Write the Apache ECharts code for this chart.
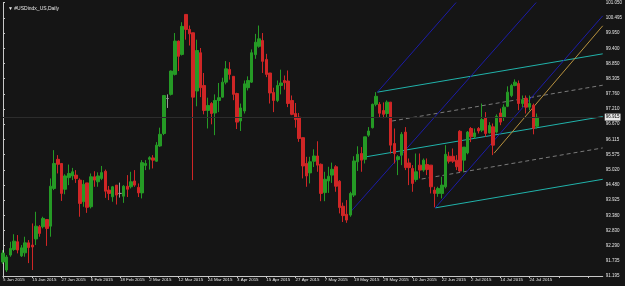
<!DOCTYPE html>
<html>
<head>
<meta charset="utf-8">
<title>#USDindx_US,Daily</title>
<script src="https://cdn.jsdelivr.net/npm/echarts@6/dist/echarts.min.js"></script>
<style>
  html, body { margin: 0; padding: 0; background: #151515; }
  #chart { width: 625px; height: 286px; }
</style>
</head>
<body>
<div id="chart"></div>
<script>
// daily bars, 5 Jan 2015 .. 28 Jul 2015 (weekdays)
var firstDay = '2015-01-05';
var slotCount = 165; // chart is shifted, empty slots on the right

var opens = [91.70, 91.41, 91.95, 92.15, 92.43, 91.92, 92.03, 92.39, 92.31, 92.53,
  92.97, 92.97, 93.23, 92.99, 94.35, 95.40, 95.25, 94.32, 94.74, 94.80,
  94.83, 94.65, 93.87, 94.55, 93.69, 94.77, 94.59, 94.71, 94.97, 94.29,
  94.05, 94.47, 94.17, 94.07, 94.43, 94.41, 94.62, 94.39, 94.19, 95.18,
  95.40, 95.45, 95.33, 95.88, 96.33, 97.59, 97.74, 98.46, 99.66, 99.18,
  100.62, 100.08, 99.96, 97.86, 99.24, 98.06, 97.16, 97.41, 97.07, 97.52,
  97.64, 98.18, 98.64, 98.39, 97.77, 96.78, 97.14, 97.98, 98.18, 99.17,
  99.47, 99.68, 99.00, 98.51, 97.81, 97.52, 98.06, 98.24, 98.22, 97.52,
  97.05, 96.92, 96.18, 95.25, 94.91, 95.33, 95.52, 95.22, 94.20, 94.62,
  94.83, 95.13, 94.61, 93.71, 93.42, 93.39, 94.11, 95.31, 95.61, 95.40,
  96.27, 96.54, 97.38, 97.38, 97.16, 97.05, 97.46, 95.97, 95.39, 95.55,
  96.38, 95.27, 95.07, 94.67, 95.19, 95.01, 95.21, 95.19, 94.29, 94.17,
  94.17, 94.41, 95.51, 95.51, 95.37, 96.41, 95.37, 95.63, 96.51, 96.21,
  96.51, 96.45, 96.89, 96.35, 96.57, 96.38, 97.07, 96.92, 97.31, 97.70,
  98.06, 98.13, 97.41, 97.59, 97.28, 97.35, 96.59];

var closes = [92.02, 91.88, 92.19, 92.45, 92.13, 92.21, 92.39, 92.22, 92.24, 92.99,
  92.73, 93.27, 92.91, 94.43, 95.25, 95.22, 94.17, 94.80, 94.89, 94.95,
  94.71, 93.81, 94.50, 93.67, 94.77, 94.65, 94.80, 94.92, 94.25, 94.17,
  94.41, 94.11, 94.17, 94.43, 94.32, 94.59, 94.47, 94.19, 95.28, 95.25,
  95.46, 95.37, 95.91, 96.30, 97.70, 97.59, 98.58, 99.66, 99.11, 100.19,
  100.08, 99.92, 97.64, 99.32, 97.98, 97.16, 97.34, 97.05, 97.52, 97.62,
  98.18, 98.66, 98.46, 97.74, 96.74, 97.25, 98.12, 98.24, 99.24, 99.62,
  99.74, 98.93, 98.46, 97.79, 97.52, 98.06, 98.15, 98.16, 97.41, 97.02,
  96.83, 96.15, 95.16, 94.80, 95.31, 95.52, 95.19, 94.17, 94.68, 94.79,
  95.04, 94.43, 93.66, 93.37, 93.21, 94.17, 95.34, 95.58, 95.37, 96.21,
  96.42, 97.38, 97.67, 97.06, 97.02, 97.46, 95.91, 95.61, 95.49, 96.30,
  95.10, 95.10, 94.53, 94.95, 95.01, 95.37, 95.03, 94.41, 94.17, 94.35,
  94.47, 95.58, 95.33, 95.33, 95.13, 94.98, 95.84, 96.38, 96.21, 96.35,
  96.42, 96.83, 96.33, 96.62, 95.91, 96.95, 96.74, 97.28, 97.82, 98.06,
  98.18, 97.41, 97.55, 97.28, 97.41, 96.51, 96.915];

var lows = [91.63, 91.34, 91.89, 92.10, 92.01, 91.88, 91.89, 91.66, 91.41, 92.31,
  92.61, 92.91, 92.28, 92.61, 94.29, 94.89, 93.90, 94.14, 94.47, 94.65,
  94.55, 93.33, 93.69, 93.47, 93.63, 94.41, 94.41, 94.65, 94.01, 93.93,
  93.87, 93.77, 94.02, 93.83, 94.04, 94.35, 94.41, 94.04, 93.99, 95.01,
  95.03, 95.07, 95.31, 95.85, 96.27, 97.25, 97.70, 98.42, 98.58, 99.14,
  99.71, 99.50, 94.65, 97.31, 97.64, 97.02, 96.51, 96.66, 96.27, 97.10,
  97.62, 98.10, 98.27, 97.53, 96.49, 96.42, 97.05, 97.88, 98.15, 99.02,
  99.42, 98.51, 98.36, 97.41, 97.10, 97.46, 97.74, 97.91, 97.28, 96.99,
  96.54, 96.03, 94.71, 94.41, 94.53, 95.12, 94.95, 93.89, 93.89, 94.19,
  94.55, 94.23, 93.45, 93.14, 93.11, 93.33, 94.04, 94.98, 94.95, 95.25,
  96.21, 96.51, 97.31, 96.92, 96.88, 96.92, 95.61, 95.25, 94.83, 95.19,
  95.01, 94.47, 94.23, 94.59, 94.71, 94.95, 94.83, 94.17, 93.67, 94.05,
  93.99, 94.35, 95.25, 95.27, 95.01, 94.95, 94.95, 95.58, 96.02, 96.15,
  96.33, 96.38, 96.21, 96.33, 95.55, 96.33, 96.63, 96.78, 97.28, 97.64,
  98.03, 97.17, 97.28, 97.05, 97.16, 96.30, 96.51];

var highs = [92.13, 91.95, 92.43, 92.70, 92.67, 92.31, 92.61, 92.49, 93.09, 93.51,
  93.03, 93.33, 93.23, 94.71, 95.73, 95.55, 95.25, 94.86, 95.21, 95.09,
  95.01, 94.71, 94.65, 94.55, 94.89, 94.97, 94.93, 95.16, 95.03, 94.44,
  94.44, 94.47, 94.56, 94.47, 94.83, 94.95, 95.01, 94.53, 95.37, 95.37,
  95.51, 95.55, 96.02, 96.54, 97.70, 97.74, 98.60, 99.95, 99.68, 100.34,
  100.62, 100.22, 99.96, 99.71, 99.41, 98.51, 97.62, 97.46, 97.74, 98.15,
  98.34, 98.94, 98.90, 98.39, 97.80, 97.41, 98.24, 98.39, 99.36, 99.92,
  100.22, 99.95, 99.20, 98.51, 97.98, 98.24, 98.63, 98.42, 98.60, 97.70,
  97.43, 97.07, 96.18, 95.49, 95.49, 95.76, 96.05, 95.25, 94.95, 95.13,
  95.28, 95.19, 94.65, 93.84, 93.93, 94.23, 95.51, 95.87, 95.84, 96.21,
  96.56, 97.41, 97.82, 97.46, 97.45, 97.52, 97.46, 96.51, 95.55, 96.38,
  96.56, 95.43, 95.19, 95.61, 95.61, 95.43, 95.43, 95.19, 94.41, 94.41,
  94.77, 95.91, 95.67, 95.79, 95.55, 96.45, 95.84, 96.42, 96.56, 96.51,
  96.56, 97.41, 97.10, 96.74, 96.69, 97.02, 97.23, 97.38, 98.03, 98.12,
  98.28, 98.24, 97.70, 97.70, 97.70, 97.41, 97.05];

var priceTicks = [91.195, 91.735, 92.290, 92.830, 93.380, 93.925, 94.480, 95.020, 95.575,
  96.115, 96.670, 97.210, 97.760, 98.305, 98.850, 99.400, 99.950, 100.495, 101.050];
var bidPrice = 96.915;

// drawn objects: [barIndex, price] end points
var cyanLines = [
  [[102.4, 97.82], [164, 99.20]],
  [[98.8, 95.48], [164, 96.94]],
  [[118.2, 93.65], [164, 94.68]]
];
var grayLines = [
  [[106.4, 96.78], [164, 98.07]],
  [[114.5, 94.69], [164, 95.81]]
];
var blueLines = [
  [[102.4, 97.82], [123.9, 101.05]],
  [[95.2, 93.53], [145.8, 101.05]],
  [[118.2, 93.65], [164, 100.57]]
];
var orangeLine = [[134.3, 95.62], [164, 100.21]];

var months = ['Jan', 'Feb', 'Mar', 'Apr', 'May', 'Jun', 'Jul', 'Aug', 'Sep', 'Oct', 'Nov', 'Dec'];

function weekdays(start, n) {
  var out = [];
  var d = new Date(start + 'T00:00:00Z');
  while (out.length < n) {
    var wd = d.getUTCDay();
    if (wd !== 0 && wd !== 6) {
      out.push(d.getUTCDate() + ' ' + months[d.getUTCMonth()] + ' ' + d.getUTCFullYear());
    }
    d.setUTCDate(d.getUTCDate() + 1);
  }
  return out;
}

var dates = weekdays(firstDay, slotCount);
var barCount = opens.length;

var candles = [];
for (var i = 0; i < barCount; i++) {
  candles.push([opens[i], closes[i], lows[i], highs[i]]);
}

var font = 'Liberation Sans, DejaVu Sans, sans-serif';

function seg(points, color, type) {
  return {
    type: 'line',
    xAxisIndex: 1,
    data: points,
    showSymbol: false,
    silent: true,
    lineStyle: { color: color, width: 1, type: type || 'solid' },
    z: 3
  };
}

var series = [{
  type: 'candlestick',
  data: candles,
  barWidth: 3,
  itemStyle: {
    color: '#259a25',
    color0: '#cf2626',
    borderColor: '#259a25',
    borderColor0: '#cf2626',
    borderColorDoji: '#9a9a9a',
    borderWidth: 1
  },
  markLine: {
    silent: true,
    symbol: 'none',
    lineStyle: { color: '#2c2c2c', width: 1, type: 'solid' },
    label: {
      position: 'end',
      formatter: bidPrice.toFixed(3),
      backgroundColor: '#e8e8e8',
      color: '#000',
      fontSize: 4.5,
      fontFamily: font,
      padding: [1, 1],
      distance: 2
    },
    data: [{ yAxis: bidPrice }]
  },
  z: 4
}];

cyanLines.forEach(function (p) { series.push(seg(p, '#20b2aa')); });
grayLines.forEach(function (p) { series.push(seg(p, '#7a7a7a', [4, 3])); });
blueLines.forEach(function (p) { series.push(seg(p, '#1c1ca8')); });
series.push(seg(orangeLine, '#b8923e'));

var myChart = echarts.init(document.getElementById('chart'));
myChart.setOption({
  animation: false,
  backgroundColor: '#151515',
  title: {
    text: '\u25BC #USDindx_US,Daily',
    left: 3,
    top: 1,
    textStyle: { color: '#e6e6e6', fontSize: 5, fontWeight: 'normal', fontFamily: font }
  },
  grid: { left: 1, right: 18, top: 2, bottom: 10 },
  xAxis: [{
    type: 'category',
    data: dates,
    boundaryGap: false,
    axisLine: { lineStyle: { color: '#c8c8c8', width: 1 } },
    axisTick: { show: true, interval: 7, length: 2, lineStyle: { color: '#c8c8c8' } },
    axisLabel: {
      interval: 7,
      align: 'left',
      margin: 2,
      color: '#e6e6e6',
      fontSize: 4.4,
      fontFamily: font,
      formatter: function (v, idx) { return idx < barCount ? v : ''; }
    },
    splitLine: { show: false }
  }, {
    type: 'value',
    min: 0,
    max: slotCount - 1,
    show: false
  }],
  yAxis: {
    type: 'value',
    position: 'right',
    min: priceTicks[0],
    max: priceTicks[priceTicks.length - 1],
    splitLine: { show: false },
    axisLine: { show: true, lineStyle: { color: '#c8c8c8', width: 1 } },
    axisTick: { show: true, length: 2, customValues: priceTicks, lineStyle: { color: '#c8c8c8' } },
    axisLabel: {
      customValues: priceTicks,
      formatter: function (v) { return v.toFixed(3); },
      color: '#e6e6e6',
      fontSize: 4.5,
      fontFamily: font,
      margin: 3
    }
  },
  series: series
});
</script>
</body>
</html>
